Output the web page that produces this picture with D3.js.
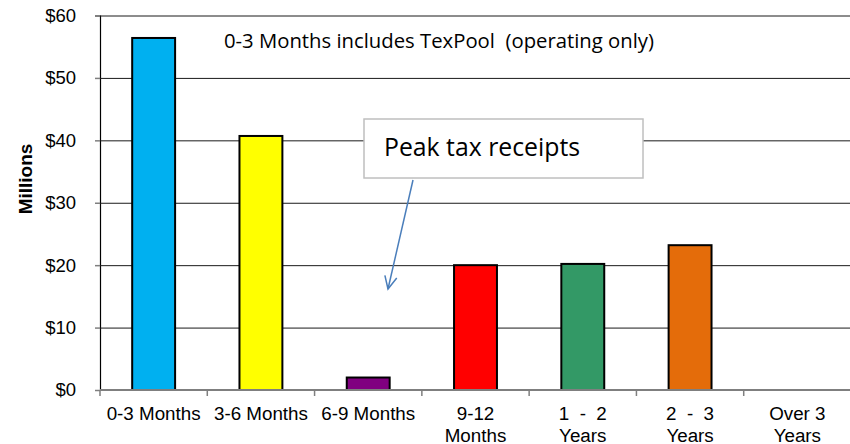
<!DOCTYPE html>
<html>
<head>
<meta charset="utf-8">
<script src="https://cdn.jsdelivr.net/npm/d3@7"></script>
<style>
  body { margin: 0; background: #fff; }
  svg { display: block; }
</style>
</head>
<body>
<svg id="chart"></svg>
<script>
// bucket labels (two lines where the original wraps)
const categories = ['0-3 Months', '3-6 Months', '6-9 Months', '9-12\nMonths', '1  -  2\nYears', '2  -  3\nYears', 'Over 3\nYears']
// millions of dollars
const values = [56.4, 40.7, 2.0, 20.0, 20.2, 23.2, 0]
const barColors = ['#00B0F0', '#FFFF00', '#800080', '#FF0000', '#339966', '#E46C0A', '#A6A6A6']
const yTicks = [0, 10, 20, 30, 40, 50, 60]

const width = 850, height = 444
const marginTop = 15.5, marginRight = -1, marginBottom = 54, marginLeft = 100

const svg = d3.select('#chart')
              .attr('width', width)
              .attr('height', height)
              .attr('viewBox', [0, 0, width, height])

const xScale = d3.scaleBand(d3.range(categories.length), [marginLeft, width - marginRight])
                 .paddingInner(0.6).paddingOuter(0.3)
const xBand = d3.scaleBand(d3.range(categories.length), [marginLeft, width - marginRight])
const yScale = d3.scaleLinear([0, 60], [height - marginBottom, marginTop])

// gridlines + y labels
const yAxis = d3.axisLeft(yScale).tickValues(yTicks).tickFormat(d => '$' + d).tickSize(5).tickPadding(19)
svg.append('g')
   .attr('transform', `translate(${marginLeft},0)`)
   .call(yAxis)
   .call(g => g.select('.domain').attr('stroke', '#000').attr('stroke-width', 1.2))
   .call(g => g.selectAll('.tick line').attr('stroke', '#7f7f7f').attr('stroke-width', 1.5))
   .call(g => g.selectAll('.tick').filter(d => d > 0).append('line')
               .attr('x2', width - marginLeft - marginRight)
               .attr('stroke', '#1a1a1a').attr('stroke-width', 1))
   .call(g => g.selectAll('.tick text')
               .attr('font-family', 'Liberation Sans, Arial, sans-serif')
               .attr('font-size', 18.5).attr('fill', '#000'))

svg.append('text')
   .attr('transform', 'translate(32,179) rotate(-90)')
   .attr('text-anchor', 'middle')
   .attr('font-family', 'Liberation Sans, Arial, sans-serif')
   .attr('font-weight', 'bold')
   .attr('font-size', 19)
   .text('Millions')

// bars
svg.append('g')
   .selectAll('rect')
   .data(values)
   .join('rect')
     .attr('x', (d, i) => xScale(i))
     .attr('width', xScale.bandwidth())
     .attr('y', d => yScale(d))
     .attr('height', d => yScale(0) - yScale(d))
     .attr('fill', (d, i) => barColors[i])
     .attr('stroke', '#000')
     .attr('stroke-width', 2)
     .attr('display', d => d > 0 ? null : 'none')

// x axis line and category ticks
const xg = svg.append('g')
xg.append('line')
  .attr('x1', marginLeft).attr('x2', width)
  .attr('y1', yScale(0)).attr('y2', yScale(0))
  .attr('stroke', '#7f7f7f').attr('stroke-width', 2)
xg.selectAll('.xtick')
  .data(d3.range(categories.length + 1))
  .join('line')
    .attr('x1', i => marginLeft + i * xBand.step())
    .attr('x2', i => marginLeft + i * xBand.step())
    .attr('y1', yScale(0)).attr('y2', yScale(0) + 6)
    .attr('stroke', '#7f7f7f').attr('stroke-width', 1.5)

xg.selectAll('.xlabel')
  .data(categories)
  .join('text')
    .attr('text-anchor', 'middle')
    .attr('font-family', 'Liberation Sans, Arial, sans-serif')
    .attr('font-size', 18.8)
    .attr('y', yScale(0) + 30)
    .each(function(d, i) {
        const t = d3.select(this)
        d.split('\n').forEach((line, k) => {
            t.append('tspan')
             .attr('x', xBand(i) + xBand.bandwidth() / 2)
             .attr('dy', k === 0 ? 0 : 21.5)
             .attr('xml:space', 'preserve')
             .text(line)
        })
    })

// notes
svg.append('text')
   .attr('x', 224).attr('y', 48)
   .attr('font-family', 'Open Sans, sans-serif')
   .attr('font-size', 20.3)
   .attr('xml:space', 'preserve')
   .text('0-3 Months includes TexPool  (operating only)')

const box = svg.append('g')
box.append('rect')
   .attr('x', 364).attr('y', 119).attr('width', 279).attr('height', 59)
   .attr('fill', '#fff').attr('stroke', '#bfbfbf').attr('stroke-width', 1.5)
box.append('text')
   .attr('x', 384).attr('y', 156)
   .attr('font-family', 'Open Sans, sans-serif')
   .attr('font-size', 24.8)
   .text('Peak tax receipts')

// arrow to the 6-9 month slot
const arrowEnd = [388, 289]
svg.append('line')
   .attr('x1', 413).attr('y1', 180)
   .attr('x2', arrowEnd[0]).attr('y2', arrowEnd[1])
   .attr('stroke', '#4a7ebb').attr('stroke-width', 1.5)
const ang = Math.atan2(289 - 180, 388 - 413)
const head = d3.line()([
    [arrowEnd[0] - 14 * Math.cos(ang - 0.45), arrowEnd[1] - 14 * Math.sin(ang - 0.45)],
    arrowEnd,
    [arrowEnd[0] - 14 * Math.cos(ang + 0.45), arrowEnd[1] - 14 * Math.sin(ang + 0.45)]
])
svg.append('path')
   .attr('d', head)
   .attr('fill', 'none').attr('stroke', '#4a7ebb').attr('stroke-width', 1.5)
</script>
</body>
</html>
